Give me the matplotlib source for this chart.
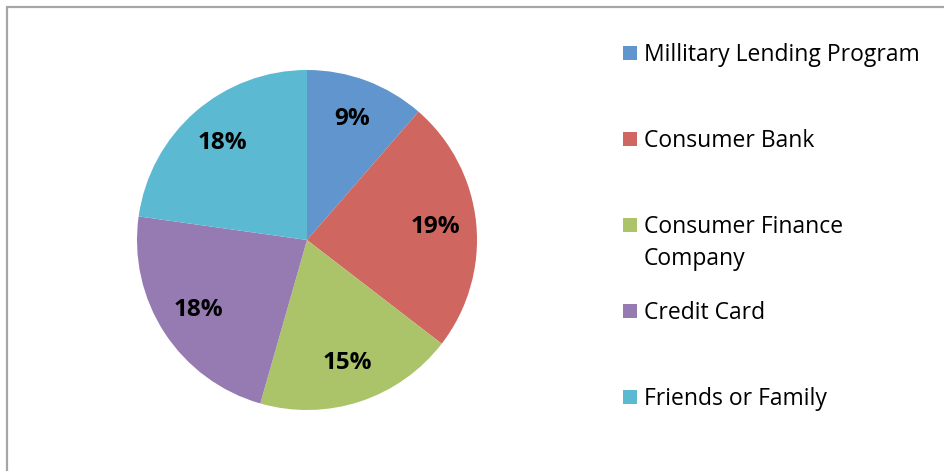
import matplotlib.pyplot as plt
from matplotlib.patches import Rectangle

# loan sources and their shares (%)
sources = ['Millitary Lending Program', 'Consumer Bank', 'Consumer Finance\nCompany',
           'Credit Card', 'Friends or Family']
shares = [9, 19, 15, 18, 18]
colors = ['#6096cd', '#cf665f', '#abc46a', '#957bb2', '#5bb9d1']

plt.rcParams['font.family'] = ['Open Sans', 'DejaVu Sans']

W, H = 944, 471
fig = plt.figure(figsize=(W / 100, H / 100), dpi=100)

# chart frame (only top/left edges fall inside the canvas)
fig.patches.append(Rectangle((6.5 / W, -0.1), 1.2, 1 - 6.5 / H + 0.1,
                             transform=fig.transFigure, fill=False,
                             edgecolor='#a6a6a6', linewidth=1.6))

# pie: center (307, 240) px, radius 170 px
cx, cy, r = 307, 240, 170
ax = fig.add_axes([(cx - r) / W, (H - cy - r) / H, 2 * r / W, 2 * r / H])
total = sum(shares)
wedges, texts, autotexts = ax.pie(
    shares, colors=colors, startangle=90, counterclock=False,
    autopct=lambda p: '%.0f%%' % (p * total / 100.0), pctdistance=0.76,
    textprops=dict(fontsize=17.5, fontweight='bold', color='black'),
    wedgeprops=dict(linewidth=0))
ax.set_xlim(-1, 1)
ax.set_ylim(-1, 1)
ax.set_aspect('equal')

# legend drawn by hand: one slot every 86 px, extra lines 32 px below
fs = 16.5
half_cap = fs * 100 / 72 * 0.714 / 2
for i, (name, c) in enumerate(zip(sources, colors)):
    y = 53 + 86 * i
    fig.patches.append(Rectangle((623 / W, 1 - (y + 7) / H), 14 / W, 14 / H,
                                 transform=fig.transFigure, facecolor=c,
                                 edgecolor='none'))
    for k, line in enumerate(name.split('\n')):
        fig.text(644 / W, 1 - (y + 32 * k + half_cap) / H, line, fontsize=fs,
                 va='baseline', ha='left', color='black')

fig.savefig('out.png', dpi=100)
